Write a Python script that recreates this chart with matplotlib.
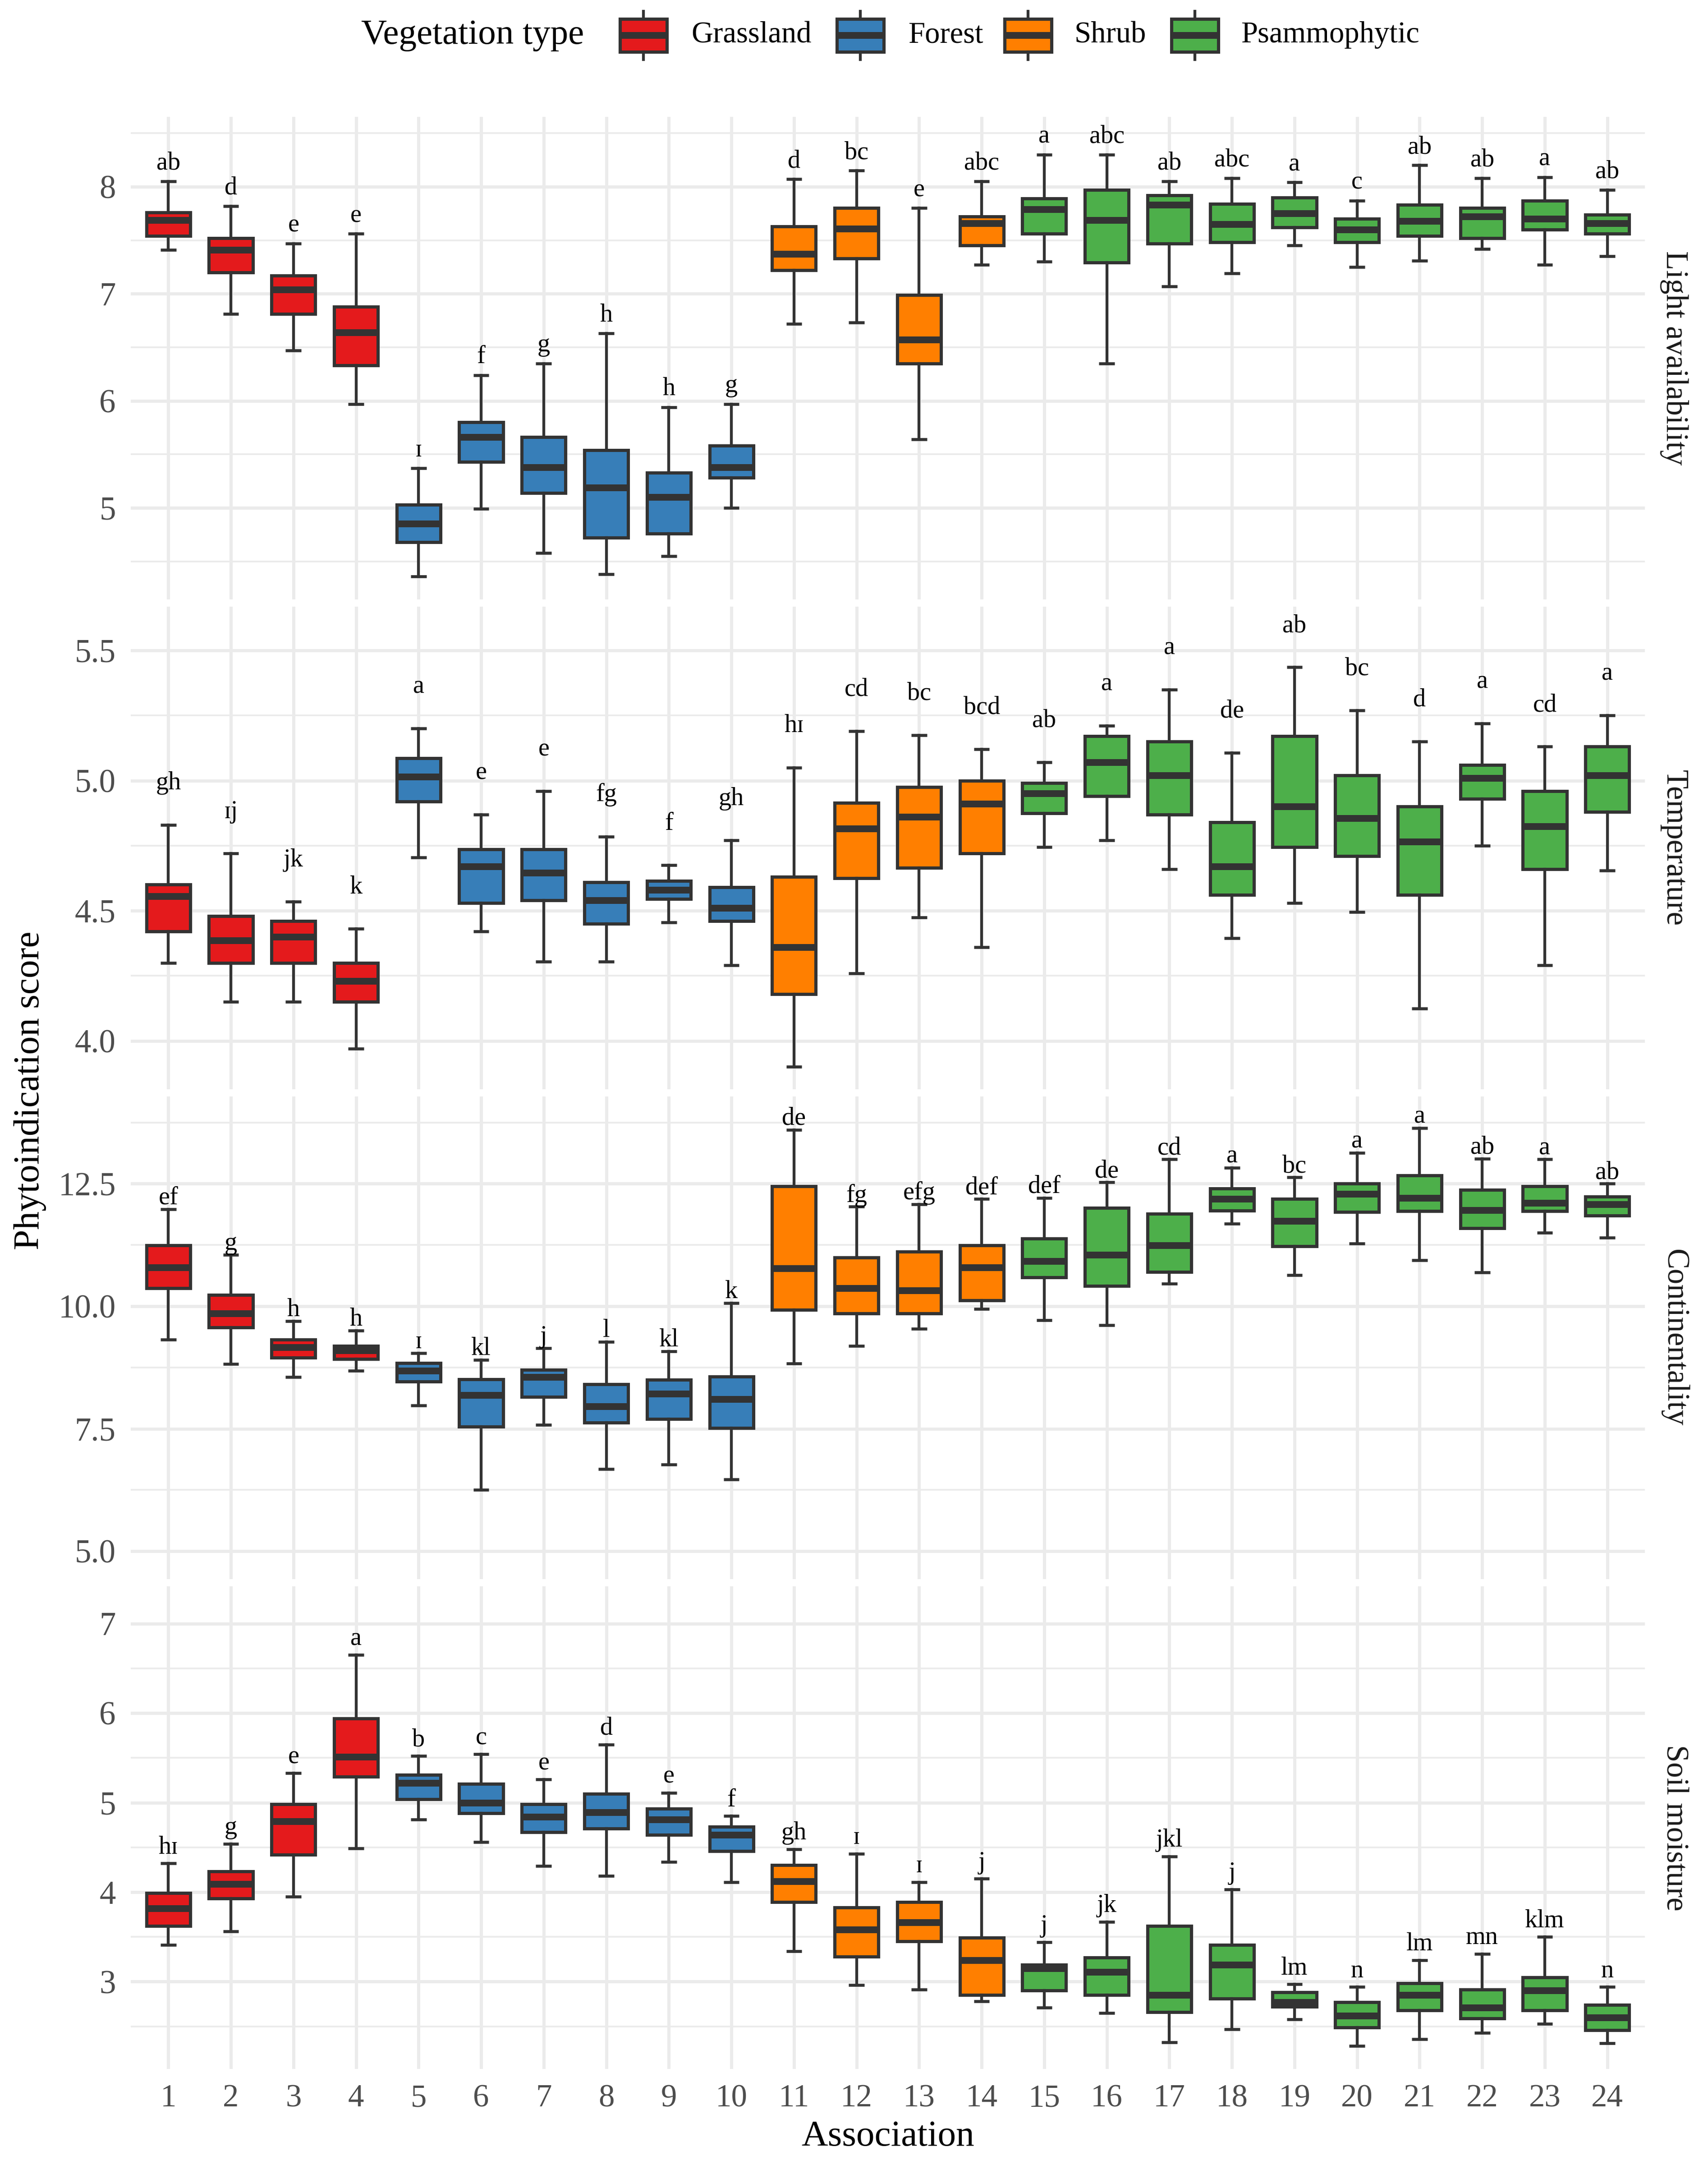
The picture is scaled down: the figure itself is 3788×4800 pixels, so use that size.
import matplotlib
matplotlib.use("Agg")
import matplotlib.pyplot as plt
from matplotlib.patches import Rectangle
from matplotlib.lines import Line2D

plt.rcParams['font.family'] = ['Liberation Serif', 'DejaVu Serif']

# ---------------- data ----------------
associations = list(range(1, 25))
veg_types = ["Grassland", "Forest", "Shrub", "Psammophytic"]
veg_colors = ["#E41A1C", "#377EB8", "#FF7F00", "#4DAF4A"]
assoc_veg = ["Grassland", "Grassland", "Grassland", "Grassland",
             "Forest", "Forest", "Forest", "Forest", "Forest", "Forest",
             "Shrub", "Shrub", "Shrub", "Shrub",
             "Psammophytic", "Psammophytic", "Psammophytic", "Psammophytic", "Psammophytic",
             "Psammophytic", "Psammophytic", "Psammophytic", "Psammophytic", "Psammophytic"]

panel_names = ["Light availability", "Temperature", "Continentality", "Soil moisture"]

light_lo  = [7.41, 6.81, 6.47, 5.97, 4.36, 4.99, 4.58, 4.38, 4.55, 5.00, 6.72, 6.73, 5.64, 7.27, 7.30, 6.35, 7.07, 7.19, 7.45, 7.25, 7.31, 7.42, 7.27, 7.35]
light_q1  = [7.54, 7.20, 6.81, 6.33, 4.68, 5.43, 5.14, 4.72, 4.76, 5.28, 7.22, 7.33, 6.35, 7.45, 7.56, 7.29, 7.47, 7.48, 7.62, 7.48, 7.54, 7.52, 7.60, 7.56]
light_med = [7.69, 7.41, 7.04, 6.64, 4.85, 5.66, 5.38, 5.19, 5.10, 5.38, 7.37, 7.61, 6.57, 7.66, 7.79, 7.69, 7.83, 7.65, 7.75, 7.60, 7.68, 7.72, 7.70, 7.66]
light_q3  = [7.76, 7.52, 7.17, 6.88, 5.03, 5.80, 5.66, 5.54, 5.33, 5.58, 7.63, 7.80, 6.99, 7.72, 7.89, 7.97, 7.92, 7.84, 7.90, 7.70, 7.83, 7.80, 7.87, 7.74]
light_hi  = [8.05, 7.82, 7.47, 7.56, 5.37, 6.24, 6.35, 6.63, 5.94, 5.97, 8.07, 8.15, 7.80, 8.05, 8.30, 8.30, 8.05, 8.08, 8.04, 7.87, 8.20, 8.08, 8.09, 7.97]
light_letters = ["ab", "d", "e", "e", "ɪ", "f", "g", "h", "h", "g", "d", "bc", "e", "abc",
                 "a", "abc", "ab", "abc", "a", "c", "ab", "ab", "a", "ab"]

temp_lo  = [4.30, 4.15, 4.15, 3.97, 4.705, 4.42, 4.305, 4.305, 4.455, 4.29, 3.90, 4.26, 4.475, 4.36, 4.745, 4.77, 4.66, 4.395, 4.53, 4.495, 4.125, 4.75, 4.29, 4.655]
temp_q1  = [4.42, 4.30, 4.30, 4.15, 4.92, 4.53, 4.54, 4.45, 4.545, 4.46, 4.18, 4.625, 4.665, 4.72, 4.875, 4.94, 4.87, 4.56, 4.745, 4.71, 4.56, 4.93, 4.66, 4.88]
temp_med = [4.555, 4.385, 4.40, 4.23, 5.015, 4.67, 4.645, 4.54, 4.58, 4.51, 4.36, 4.815, 4.86, 4.91, 4.95, 5.07, 5.02, 4.67, 4.90, 4.855, 4.765, 5.01, 4.825, 5.02]
temp_q3  = [4.60, 4.48, 4.46, 4.30, 5.085, 4.735, 4.735, 4.61, 4.615, 4.59, 4.63, 4.915, 4.975, 5.00, 4.99, 5.17, 5.15, 4.84, 5.17, 5.02, 4.90, 5.06, 4.96, 5.13]
temp_hi  = [4.83, 4.72, 4.535, 4.43, 5.20, 4.87, 4.96, 4.785, 4.675, 4.77, 5.05, 5.19, 5.175, 5.12, 5.07, 5.21, 5.35, 5.107, 5.435, 5.27, 5.15, 5.22, 5.13, 5.25]
temp_letters = ["gh", "ɪj", "jk", "k", "a", "e", "e", "fg", "f", "gh", "hɪ", "cd", "bc", "bcd",
                "ab", "a", "a", "de", "ab", "bc", "d", "a", "cd", "a"]

cont_lo  = [9.32, 8.82, 8.55, 8.68, 7.97, 6.25, 7.58, 6.68, 6.77, 6.46, 8.83, 9.19, 9.54, 9.94, 9.71, 9.61, 10.46, 11.68, 10.63, 11.28, 10.94, 10.69, 11.50, 11.40]
cont_q1  = [10.37, 9.57, 8.95, 8.92, 8.46, 7.54, 8.15, 7.62, 7.70, 7.51, 9.93, 9.85, 9.85, 10.12, 10.59, 10.41, 10.70, 11.95, 11.22, 11.92, 11.94, 11.59, 11.94, 11.85]
cont_med = [10.79, 9.85, 9.16, 9.10, 8.68, 8.19, 8.55, 7.96, 8.21, 8.10, 10.77, 10.37, 10.32, 10.79, 10.92, 11.05, 11.24, 12.19, 11.74, 12.29, 12.21, 11.96, 12.11, 12.08]
cont_q3  = [11.24, 10.23, 9.32, 9.19, 8.84, 8.51, 8.70, 8.41, 8.50, 8.56, 12.45, 10.99, 11.11, 11.24, 11.38, 12.01, 11.89, 12.40, 12.19, 12.50, 12.67, 12.37, 12.45, 12.24]
cont_hi  = [11.98, 11.05, 9.70, 9.50, 9.04, 8.90, 9.14, 9.27, 9.08, 10.06, 13.60, 12.03, 12.08, 12.19, 12.21, 12.53, 13.00, 12.83, 12.63, 13.13, 13.64, 13.01, 13.00, 12.50]
cont_letters = ["ef", "g", "h", "h", "ɪ", "kl", "j", "l", "kl", "k", "de", "fg", "efg", "def",
                "def", "de", "cd", "a", "bc", "a", "a", "ab", "a", "ab"]

soil_lo  = [3.41, 3.56, 3.95, 4.49, 4.81, 4.56, 4.29, 4.18, 4.34, 4.11, 3.34, 2.96, 2.91, 2.78, 2.71, 2.65, 2.32, 2.47, 2.58, 2.28, 2.36, 2.43, 2.53, 2.31]
soil_q1  = [3.62, 3.93, 4.42, 5.29, 5.04, 4.88, 4.67, 4.71, 4.64, 4.46, 3.89, 3.28, 3.45, 2.85, 2.90, 2.85, 2.66, 2.81, 2.72, 2.49, 2.68, 2.59, 2.68, 2.46]
soil_med = [3.82, 4.09, 4.79, 5.51, 5.22, 5.00, 4.84, 4.89, 4.81, 4.64, 4.12, 3.58, 3.66, 3.24, 3.15, 3.11, 2.85, 3.19, 2.77, 2.62, 2.85, 2.71, 2.90, 2.60]
soil_q3  = [3.99, 4.23, 4.98, 5.94, 5.31, 5.21, 4.98, 5.10, 4.93, 4.73, 4.30, 3.83, 3.89, 3.49, 3.19, 3.27, 3.62, 3.41, 2.88, 2.77, 2.98, 2.91, 3.05, 2.74]
soil_hi  = [4.32, 4.54, 5.33, 6.65, 5.52, 5.54, 5.26, 5.65, 5.11, 4.85, 4.48, 4.43, 4.11, 4.15, 3.44, 3.67, 4.40, 4.03, 2.97, 2.94, 3.24, 3.31, 3.50, 2.94]
soil_letters = ["hɪ", "g", "e", "a", "b", "c", "e", "d", "e", "f", "gh", "ɪ", "ɪ", "j",
                "j", "jk", "jkl", "j", "lm", "n", "lm", "mn", "klm", "n"]

light_ticks = [5, 6, 7, 8]
light_ticklabels = ["5", "6", "7", "8"]
temp_ticks = [4.0, 4.5, 5.0, 5.5]
temp_ticklabels = ["4.0", "4.5", "5.0", "5.5"]
cont_ticks = [5.0, 7.5, 10.0, 12.5]
cont_ticklabels = ["5.0", "7.5", "10.0", "12.5"]
soil_ticks = [3, 4, 5, 6, 7]
soil_ticklabels = ["3", "4", "5", "6", "7"]

# ---------------- layout / style ----------------
W, H, DPI = 3788, 4800, 300
PT = DPI / 72.0
EDGE = "#333333"
GRID = "#EBEBEB"

panel_left, panel_right = 290, 3648
panel_tops = [259, 1345, 2431, 3517]
panel_h = 1070
ylims = [(4.144, 8.653), (3.814, 5.668), (4.43, 14.28), (2.025, 7.416)]
minor_ticks = [[4.5, 5.5, 6.5, 7.5, 8.5], [4.25, 4.75, 5.25],
               [6.25, 8.75, 11.25, 13.75], [2.5, 3.5, 4.5, 5.5, 6.5]]
label_offsets = [0.17, 0.16, 0.23, 0.18]

panels = [
    (light_lo, light_q1, light_med, light_q3, light_hi, light_letters, light_ticks, light_ticklabels),
    (temp_lo, temp_q1, temp_med, temp_q3, temp_hi, temp_letters, temp_ticks, temp_ticklabels),
    (cont_lo, cont_q1, cont_med, cont_q3, cont_hi, cont_letters, cont_ticks, cont_ticklabels),
    (soil_lo, soil_q1, soil_med, soil_q3, soil_hi, soil_letters, soil_ticks, soil_ticklabels),
]

color_of = dict(zip(veg_types, veg_colors))

fig = plt.figure(figsize=(W / DPI, H / DPI), dpi=DPI)
fig.patch.set_facecolor("white")

overlay = fig.add_axes([0, 0, 1, 1])
overlay.set_xlim(0, W)
overlay.set_ylim(H, 0)
overlay.axis("off")

for i, (lo, q1, med, q3, hi, letters, ticks, ticklabels) in enumerate(panels):
    top = panel_tops[i]
    ax = fig.add_axes([panel_left / W, 1 - (top + panel_h) / H,
                       (panel_right - panel_left) / W, panel_h / H])
    ax.set_facecolor("none")
    stats = []
    for j in range(len(associations)):
        stats.append(dict(whislo=lo[j], q1=q1[j], med=med[j], q3=q3[j], whishi=hi[j],
                          fliers=[], label=str(associations[j])))
    bp = ax.bxp(stats, positions=associations, widths=0.7, capwidths=0.25,
                patch_artist=True, showfliers=False, manage_ticks=False,
                boxprops=dict(edgecolor=EDGE, linewidth=1.7),
                medianprops=dict(color=EDGE, linewidth=3.6, solid_capstyle="butt"),
                whiskerprops=dict(color=EDGE, linewidth=1.5),
                capprops=dict(color=EDGE, linewidth=1.6, solid_capstyle="butt"))
    for patch, veg in zip(bp["boxes"], assoc_veg):
        patch.set_facecolor(color_of[veg])
    for j, a in enumerate(associations):
        ax.text(a, hi[j] + label_offsets[i], letters[j], ha="center", va="center",
                fontsize=13.5, color="black")

    ax.set_xlim(0.4, 24.6)
    ax.set_ylim(*ylims[i])
    ax.set_yticks(ticks)
    ax.set_yticklabels(ticklabels)
    ax.set_yticks(minor_ticks[i], minor=True)
    ax.set_xticks(associations)
    ax.set_xticklabels([str(a) for a in associations])
    ax.grid(axis="y", which="major", color=GRID, linewidth=1.7, zorder=0)
    ax.grid(axis="y", which="minor", color=GRID, linewidth=0.9, zorder=0)
    ax.grid(axis="x", which="major", color=GRID, linewidth=1.7, zorder=0)
    ax.set_axisbelow(True)
    for s in ax.spines.values():
        s.set_visible(False)
    ax.tick_params(axis="both", which="both", length=0)
    ax.tick_params(axis="y", labelsize=17.5, labelcolor="#4D4D4D", pad=8)
    ax.tick_params(axis="x", labelsize=17, labelcolor="#4D4D4D", pad=8,
                   labelbottom=(i == len(panels) - 1))

    overlay.text(3713, top + panel_h / 2, panel_names[i], rotation=-90,
                 ha="center", va="center", fontsize=16.5, color="#1A1A1A")

# axis titles
overlay.text((panel_left + panel_right) / 2, 4738, "Association", ha="center", va="center",
             fontsize=19.5, color="black")
overlay.text(67, 2418, "Phytoindication score", rotation=90, ha="center", va="center",
             fontsize=19.5, color="black")

# legend
leg_y = 78
overlay.text(801, leg_y, "Vegetation type", ha="left", va="center", fontsize=19, color="black")
key_lefts = [1375, 1856, 2228, 2598]
text_lefts = [1533, 2014, 2383, 2752]
key_w, key_top, key_bot = 104, 42, 115
for veg, col, kx, tx in zip(veg_types, veg_colors, key_lefts, text_lefts):
    cx = kx + key_w / 2
    overlay.add_line(Line2D([cx, cx], [25, key_top], color=EDGE, linewidth=1.5))
    overlay.add_line(Line2D([cx, cx], [key_bot, 132], color=EDGE, linewidth=1.5))
    overlay.add_patch(Rectangle((kx, key_top), key_w, key_bot - key_top, facecolor=col,
                                edgecolor=EDGE, linewidth=1.7))
    overlay.add_line(Line2D([kx, kx + key_w], [leg_y, leg_y], color=EDGE, linewidth=3.6,
                            solid_capstyle="butt"))
    overlay.text(tx, leg_y, veg, ha="left", va="center", fontsize=16, color="black")

fig.savefig("out.png", dpi=DPI, facecolor="white")
